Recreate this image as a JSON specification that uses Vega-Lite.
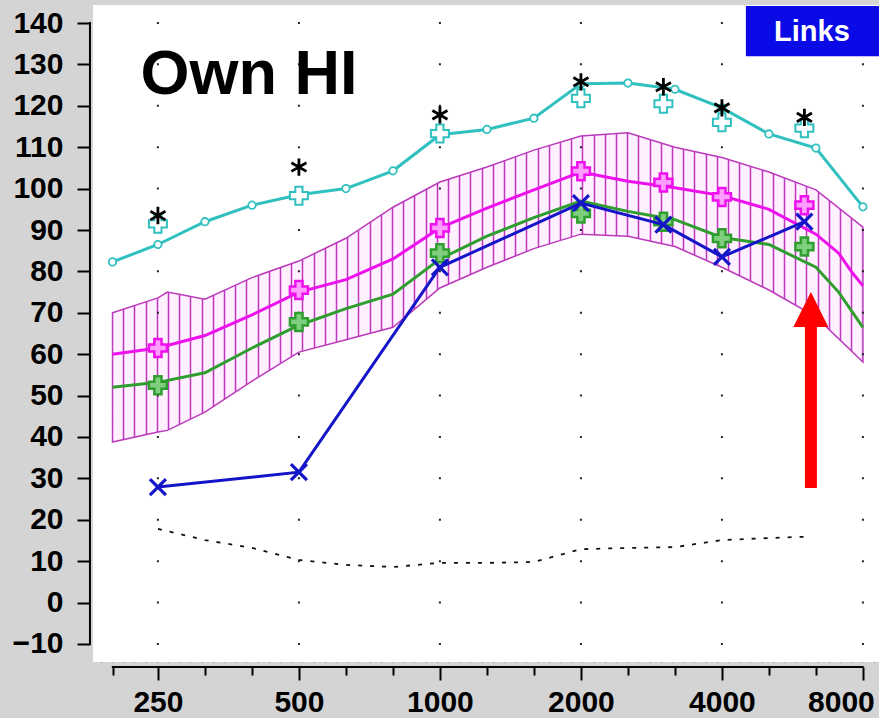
{
  "$schema": "https://vega.github.io/schema/vega-lite/v6.json",
  "width": 786,
  "height": 657,
  "autosize": {"type": "none"},
  "padding": {"left": 93, "top": 5, "right": 0, "bottom": 56},
  "background": "#d4d4d4",
  "config": {"view": {"fill": "white", "stroke": null}},
  "datasets": {
    "band": [
      {"freq": 200, "lo": 38.8, "hi": 70},
      {"freq": 250, "lo": 41.2, "hi": 73.6},
      {"freq": 262, "lo": 41.6, "hi": 75},
      {"freq": 315, "lo": 46, "hi": 73.3},
      {"freq": 397, "lo": 53.5, "hi": 78.5},
      {"freq": 500, "lo": 60.5, "hi": 82.5},
      {"freq": 630, "lo": 63.5, "hi": 88},
      {"freq": 794, "lo": 66.5, "hi": 95.5},
      {"freq": 1000, "lo": 76, "hi": 101.6},
      {"freq": 1260, "lo": 81, "hi": 105.2},
      {"freq": 1587, "lo": 85.5, "hi": 109.3},
      {"freq": 2000, "lo": 89, "hi": 112.7},
      {"freq": 2520, "lo": 88.5, "hi": 113.5},
      {"freq": 3175, "lo": 86, "hi": 110},
      {"freq": 4000, "lo": 81, "hi": 107.5},
      {"freq": 5040, "lo": 75.5, "hi": 104},
      {"freq": 6350, "lo": 69, "hi": 99.7},
      {"freq": 8000, "lo": 58.1, "hi": 90.7}
    ],
    "gridf": [
      {"freq": 250}, {"freq": 500}, {"freq": 1000}, {"freq": 2000}, {"freq": 4000}, {"freq": 8000}
    ],
    "noise": [
      {"freq": 250, "level": 17.8}, {"freq": 315, "level": 15.1}, {"freq": 397, "level": 13.2},
      {"freq": 500, "level": 10.3}, {"freq": 630, "level": 9.1}, {"freq": 794, "level": 8.6},
      {"freq": 1000, "level": 9.6}, {"freq": 1260, "level": 9.6}, {"freq": 1587, "level": 9.8},
      {"freq": 2000, "level": 12.9}, {"freq": 2520, "level": 13.2}, {"freq": 3175, "level": 13.4},
      {"freq": 4000, "level": 15.1}, {"freq": 5040, "level": 15.6}, {"freq": 6000, "level": 15.9}
    ],
    "ucl": [
      {"freq": 200, "level": 82.3}, {"freq": 250, "level": 86.5}, {"freq": 315, "level": 92},
      {"freq": 397, "level": 96}, {"freq": 500, "level": 98.5}, {"freq": 630, "level": 100},
      {"freq": 794, "level": 104.3}, {"freq": 1000, "level": 113}, {"freq": 1260, "level": 114.3},
      {"freq": 1587, "level": 117}, {"freq": 2000, "level": 125.3}, {"freq": 2520, "level": 125.5},
      {"freq": 3175, "level": 124}, {"freq": 4000, "level": 119.5}, {"freq": 5040, "level": 113.2},
      {"freq": 6350, "level": 109.8}, {"freq": 8000, "level": 95.6}
    ],
    "uclplus": [
      {"freq": 250, "level": 91.5}, {"freq": 500, "level": 98.3}, {"freq": 1000, "level": 113.3},
      {"freq": 2000, "level": 121.8}, {"freq": 3000, "level": 120.5}, {"freq": 4000, "level": 116},
      {"freq": 6000, "level": 114.6}
    ],
    "star": [
      {"freq": 250, "level": 93.5}, {"freq": 500, "level": 105.2}, {"freq": 1000, "level": 117.8},
      {"freq": 2000, "level": 125.8}, {"freq": 3000, "level": 124.6}, {"freq": 4000, "level": 119.5},
      {"freq": 6000, "level": 117.2}
    ],
    "green": [
      {"freq": 200, "level": 52}, {"freq": 250, "level": 53.2}, {"freq": 315, "level": 55.5},
      {"freq": 397, "level": 61.5}, {"freq": 500, "level": 67}, {"freq": 630, "level": 71},
      {"freq": 794, "level": 74.5}, {"freq": 1000, "level": 83}, {"freq": 1260, "level": 88.5},
      {"freq": 1587, "level": 93}, {"freq": 2000, "level": 97}, {"freq": 2520, "level": 94.5},
      {"freq": 3175, "level": 92.5}, {"freq": 4000, "level": 88.2}, {"freq": 5040, "level": 86.5},
      {"freq": 6350, "level": 81}, {"freq": 7100, "level": 75}, {"freq": 8000, "level": 66.5}
    ],
    "greenplus": [
      {"freq": 250, "level": 52.5}, {"freq": 500, "level": 67.8}, {"freq": 1000, "level": 84.4},
      {"freq": 2000, "level": 94}, {"freq": 3000, "level": 92}, {"freq": 4000, "level": 88},
      {"freq": 6000, "level": 86}
    ],
    "target": [
      {"freq": 200, "level": 60}, {"freq": 250, "level": 61.5}, {"freq": 315, "level": 64.5},
      {"freq": 397, "level": 69.5}, {"freq": 500, "level": 75}, {"freq": 630, "level": 78},
      {"freq": 794, "level": 83}, {"freq": 1000, "level": 90.5}, {"freq": 1260, "level": 95.3},
      {"freq": 1587, "level": 99.7}, {"freq": 2000, "level": 104}, {"freq": 2520, "level": 101.8},
      {"freq": 3175, "level": 100.2}, {"freq": 4000, "level": 98.3}, {"freq": 5040, "level": 95},
      {"freq": 6350, "level": 89}, {"freq": 7100, "level": 84.4}, {"freq": 7600, "level": 79.6},
      {"freq": 8000, "level": 76.5}
    ],
    "targetplus": [
      {"freq": 250, "level": 61.5}, {"freq": 500, "level": 75.5}, {"freq": 1000, "level": 90.5},
      {"freq": 2000, "level": 104.2}, {"freq": 3000, "level": 101.5}, {"freq": 4000, "level": 98},
      {"freq": 6000, "level": 96}
    ],
    "measured": [
      {"freq": 250, "level": 27.9}, {"freq": 500, "level": 31.5}, {"freq": 1000, "level": 81},
      {"freq": 2000, "level": 96.5}, {"freq": 3000, "level": 91.3}, {"freq": 4000, "level": 83.5},
      {"freq": 6000, "level": 92}
    ]
  },
  "layer": [
    {
      "data": {"values": [{}]},
      "mark": {"type": "rule", "opacity": 0},
      "encoding": {
        "x": {
          "datum": 100,
          "type": "quantitative",
          "scale": {"domain": [3.04, 704.84], "nice": false, "zero": false},
          "axis": {
            "orient": "top", "grid": true, "gridColor": "#bb3abb", "gridWidth": 1.5, "gridOpacity": 1,
            "ticks": false, "labels": false, "domain": false, "title": null,
            "values": [10, 20, 30, 40, 50, 60, 70, 80, 90, 100, 110, 120, 130, 140, 150, 160, 170, 180, 190, 200,
                       210, 220, 230, 240, 250, 260, 270, 280, 290, 300, 310, 320, 330, 340, 350, 360, 370, 380, 390, 400,
                       410, 420, 430, 440, 450, 460, 470, 480, 490, 500, 510, 520, 530, 540, 550, 560, 570, 580, 590, 600,
                       610, 620, 630, 640, 650, 660, 670, 680, 690, 700]
          }
        }
      }
    },
    {
      "layer": [
        {
          "data": {"name": "band"},
          "mark": {"type": "area", "fill": "white", "clip": true, "opacity": 1},
          "encoding": {
            "x": {
              "field": "freq", "type": "quantitative",
              "scale": {"type": "log", "domain": [181.7, 8658], "nice": false},
              "axis": {
                "orient": "bottom", "offset": 5, "domain": false, "grid": false, "title": null,
                "values": [200, 250, 315, 397, 500, 630, 794, 1000, 1260, 1587, 2000, 2520, 3175, 4000, 5040, 6350, 8000],
                "tickSize": {"condition": {"test": "indexof([250,500,1000,2000,4000,8000], datum.value) >= 0", "value": 13}, "value": 8},
                "tickWidth": 2, "tickColor": "black",
                "labelExpr": "indexof([250,500,1000,2000,4000,8000], datum.value) >= 0 ? format(datum.value, 'd') : ''",
                "labelFont": "Liberation Sans", "labelFontSize": 30, "labelFontWeight": "bold", "labelColor": "black",
                "labelPadding": 7, "labelOverlap": false, "labelFlush": false, "labelBound": false,
                "labelOffset": {"condition": {"test": "datum.value == 8000", "value": -22}, "value": 0}
              }
            },
            "y": {
              "field": "hi", "type": "quantitative",
              "scale": {"domain": [-14.35, 144.35], "nice": false, "zero": false},
              "axis": {
                "orient": "left", "offset": 3, "domain": false, "grid": false, "title": null,
                "values": [-10, 0, 10, 20, 30, 40, 50, 60, 70, 80, 90, 100, 110, 120, 130, 140],
                "tickSize": 13, "tickWidth": 2, "tickColor": "black",
                "labelFont": "Liberation Sans", "labelFontSize": 30, "labelFontWeight": "bold", "labelColor": "black",
                "labelPadding": 14, "labelOverlap": false, "labelFlush": false, "labelBound": false
              }
            },
            "y2": {"datum": 170}
          }
        },
        {
          "data": {"name": "band"},
          "mark": {"type": "area", "fill": "white", "clip": true},
          "encoding": {
            "x": {"field": "freq", "type": "quantitative"},
            "y": {"field": "lo", "type": "quantitative"},
            "y2": {"datum": -40}
          }
        },
        {
          "data": {"values": [{}]},
          "mark": {"type": "rect", "fill": "white", "clip": true},
          "encoding": {
            "x": {"datum": 150, "type": "quantitative"}, "x2": {"datum": 201.5},
            "y": {"datum": 170, "type": "quantitative"}, "y2": {"datum": -40}
          }
        },
        {
          "data": {"values": [{}]},
          "mark": {"type": "rect", "fill": "white", "clip": true},
          "encoding": {
            "x": {"datum": 7950, "type": "quantitative"}, "x2": {"datum": 12000},
            "y": {"datum": 170, "type": "quantitative"}, "y2": {"datum": -40}
          }
        },
        {
          "data": {"name": "band"},
          "mark": {"type": "area", "fill": "#ff00ff", "fillOpacity": 0.06, "stroke": "#bb3abb", "strokeWidth": 1.5},
          "encoding": {
            "x": {"field": "freq", "type": "quantitative"},
            "y": {"field": "hi", "type": "quantitative"},
            "y2": {"field": "lo"}
          }
        },
        {
          "data": {"name": "gridf"},
          "mark": {"type": "rule", "color": "#222222", "strokeWidth": 2, "strokeDash": [2, 39.4]},
          "encoding": {
            "x": {"field": "freq", "type": "quantitative"},
            "y": {"datum": 140.25, "type": "quantitative"},
            "y2": {"datum": -10.5}
          }
        },
        {
          "data": {"name": "noise"},
          "mark": {"type": "line", "color": "#111111", "strokeWidth": 1.8, "strokeDash": [4, 8]},
          "encoding": {
            "x": {"field": "freq", "type": "quantitative"},
            "y": {"field": "level", "type": "quantitative"}
          }
        },
        {
          "data": {"name": "ucl"},
          "mark": {"type": "line", "color": "#30c0c0", "strokeWidth": 3},
          "encoding": {
            "x": {"field": "freq", "type": "quantitative"},
            "y": {"field": "level", "type": "quantitative"}
          }
        },
        {
          "data": {"name": "ucl"},
          "mark": {"type": "point", "shape": "circle", "size": 55, "filled": true, "fill": "white", "stroke": "#30c0c0", "strokeWidth": 1.8, "opacity": 1},
          "encoding": {
            "x": {"field": "freq", "type": "quantitative"},
            "y": {"field": "level", "type": "quantitative"}
          }
        },
        {
          "data": {"name": "uclplus"},
          "mark": {"type": "point", "shape": "cross", "size": 324, "filled": true, "fill": "white", "stroke": "#30c0c0", "strokeWidth": 2, "opacity": 1},
          "encoding": {
            "x": {"field": "freq", "type": "quantitative"},
            "y": {"field": "level", "type": "quantitative"}
          }
        },
        {
          "data": {"name": "star"},
          "mark": {"type": "point", "shape": "M0,-1L0,1M-0.87,-0.5L0.87,0.5M-0.87,0.5L0.87,-0.5", "size": 300, "filled": false, "color": "black", "strokeWidth": 2.8, "opacity": 1},
          "encoding": {
            "x": {"field": "freq", "type": "quantitative"},
            "y": {"field": "level", "type": "quantitative"}
          }
        },
        {
          "data": {"name": "green"},
          "mark": {"type": "line", "color": "#2e9e2e", "strokeWidth": 3},
          "encoding": {
            "x": {"field": "freq", "type": "quantitative"},
            "y": {"field": "level", "type": "quantitative"}
          }
        },
        {
          "data": {"name": "greenplus"},
          "mark": {"type": "point", "shape": "cross", "size": 324, "filled": true, "fill": "#7fcf7f", "stroke": "#2e9e2e", "strokeWidth": 2.5, "opacity": 1},
          "encoding": {
            "x": {"field": "freq", "type": "quantitative"},
            "y": {"field": "level", "type": "quantitative"}
          }
        },
        {
          "data": {"name": "target"},
          "mark": {"type": "line", "color": "#ee11ee", "strokeWidth": 3},
          "encoding": {
            "x": {"field": "freq", "type": "quantitative"},
            "y": {"field": "level", "type": "quantitative"}
          }
        },
        {
          "data": {"name": "targetplus"},
          "mark": {"type": "point", "shape": "cross", "size": 324, "filled": true, "fill": "#ff9cff", "stroke": "#ee11ee", "strokeWidth": 2.5, "opacity": 1},
          "encoding": {
            "x": {"field": "freq", "type": "quantitative"},
            "y": {"field": "level", "type": "quantitative"}
          }
        },
        {
          "data": {"name": "measured"},
          "mark": {"type": "line", "color": "#1414c8", "strokeWidth": 3},
          "encoding": {
            "x": {"field": "freq", "type": "quantitative"},
            "y": {"field": "level", "type": "quantitative"}
          }
        },
        {
          "data": {"name": "measured"},
          "mark": {"type": "point", "shape": "M-1,-1L1,1M-1,1L1,-1", "size": 256, "filled": false, "color": "#1414c8", "strokeWidth": 3.2, "opacity": 1},
          "encoding": {
            "x": {"field": "freq", "type": "quantitative"},
            "y": {"field": "level", "type": "quantitative"}
          }
        },
        {
          "data": {"values": [{}]},
          "mark": {"type": "rule", "color": "#ff0000", "strokeWidth": 12},
          "encoding": {
            "x": {"datum": 6195, "type": "quantitative"},
            "y": {"datum": 27.7, "type": "quantitative"},
            "y2": {"datum": 68}
          }
        },
        {
          "data": {"values": [{}]},
          "mark": {"type": "point", "shape": "M-1,1L1,1L0,-1Z", "size": 1225, "filled": true, "color": "#ff0000", "opacity": 1},
          "encoding": {
            "x": {"datum": 6195, "type": "quantitative"},
            "y": {"datum": 70.8, "type": "quantitative"}
          }
        },
        {
          "data": {"values": [{}]},
          "mark": {"type": "text", "text": "Own HI", "align": "left", "baseline": "alphabetic", "font": "Liberation Sans", "fontSize": 63, "fontWeight": "bold", "color": "black"},
          "encoding": {
            "x": {"datum": 229.4, "type": "quantitative"},
            "y": {"datum": 122.9, "type": "quantitative"}
          }
        },
        {
          "data": {"values": [{}]},
          "mark": {"type": "rect", "fill": "#0a0ae6"},
          "encoding": {
            "x": {"datum": 4500, "type": "quantitative"}, "x2": {"datum": 9000},
            "y": {"datum": 144.1, "type": "quantitative"}, "y2": {"datum": 132.0}
          }
        },
        {
          "data": {"values": [{}]},
          "mark": {"type": "text", "text": "Links", "align": "center", "baseline": "alphabetic", "font": "Liberation Sans", "fontSize": 29, "fontWeight": "bold", "color": "white"},
          "encoding": {
            "x": {"datum": 6226, "type": "quantitative"},
            "y": {"datum": 135.65, "type": "quantitative"}
          }
        },
        {
          "data": {"values": [{}]},
          "mark": {"type": "rule", "color": "black", "strokeWidth": 2},
          "encoding": {
            "x": {"datum": 179, "type": "quantitative"},
            "y": {"datum": 140.25, "type": "quantitative"},
            "y2": {"datum": -10.25}
          }
        },
        {
          "data": {"values": [{}]},
          "mark": {"type": "rule", "color": "black", "strokeWidth": 2},
          "encoding": {
            "x": {"datum": 199.3, "type": "quantitative"},
            "x2": {"datum": 8030},
            "y": {"datum": -15.56, "type": "quantitative"}
          }
        }
      ]
    }
  ],
  "resolve": {"scale": {"x": "independent"}, "axis": {"x": "independent"}}
}
